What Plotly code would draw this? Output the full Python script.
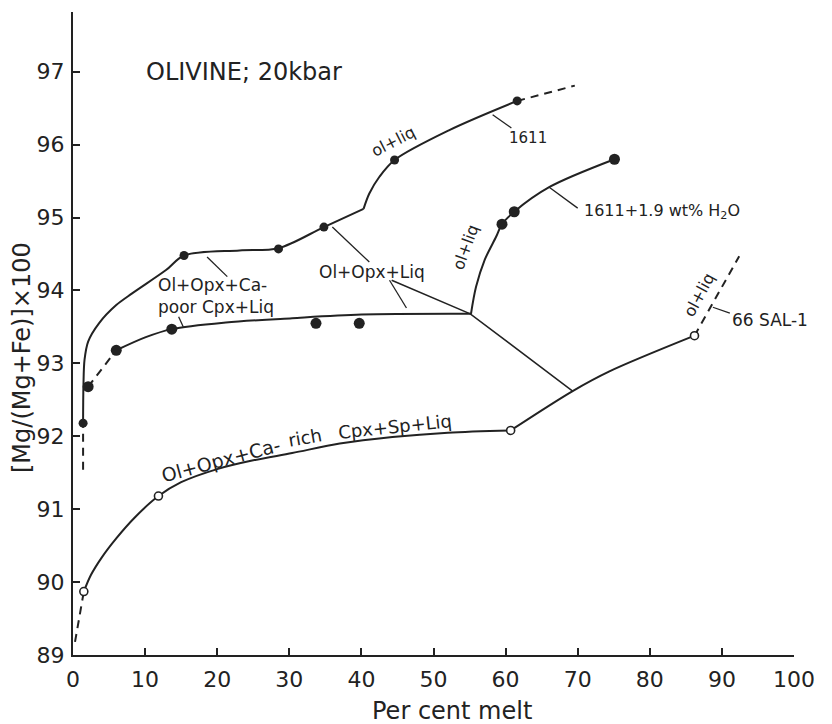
import plotly.graph_objects as go

INK = "#222222"
FONT = "DejaVu Sans"

# ---- measured olivine compositions: per cent melt vs Mg-number ----
run1611_x = [1.4, 15.4, 28.5, 34.8, 44.6, 61.6]
run1611_y = [92.18, 94.48, 94.57, 94.87, 95.79, 96.60]

wet_x = [2.1, 6.0, 13.7, 33.7, 39.7, 59.5, 61.2, 75.1]
wet_y = [92.68, 93.18, 93.47, 93.55, 93.55, 94.91, 95.08, 95.80]

sal_x = [1.5, 11.85, 60.7, 86.2]
sal_y = [89.87, 91.18, 92.08, 93.38]

# ---- trend curves (solid parts, split at the phase-out kinks) ----
c1611_a_x = [1.4, 1.45, 1.6, 2.1, 3.6, 6.0, 8.2, 12.9, 15.4, 23.1, 28.5, 34.8, 40.3]
c1611_a_y = [92.18, 92.7, 93.05, 93.3, 93.55, 93.8, 93.96, 94.28, 94.48, 94.55, 94.58, 94.87, 95.12]
c1611_b_x = [40.3, 41.1, 42.5, 44.6, 52.2, 61.6]
c1611_b_y = [95.12, 95.33, 95.56, 95.79, 96.2, 96.6]
c1611_dash_lo_x = [1.4, 1.4]
c1611_dash_lo_y = [91.54, 92.18]
c1611_dash_hi_x = [61.6, 69.6]
c1611_dash_hi_y = [96.6, 96.81]

wet_a_x = [6.0, 10.1, 13.7, 21.2, 30.4, 40.0, 55.2]
wet_a_y = [93.18, 93.36, 93.47, 93.56, 93.62, 93.67, 93.68]
wet_b_x = [55.2, 55.9, 57.1, 58.7, 59.5, 61.2, 66.1, 75.1]
wet_b_y = [93.68, 94.05, 94.42, 94.74, 94.91, 95.08, 95.42, 95.8]
wet_dash_x = [2.1, 6.0]
wet_dash_y = [92.68, 93.18]

sal_a_x = [1.5, 2.5, 4.0, 6.0, 8.5, 11.85, 15.0, 20.0, 25.0, 30.4, 37.0, 44.3, 52.0, 60.7]
sal_a_y = [89.87, 90.1, 90.34, 90.6, 90.88, 91.18, 91.37, 91.55, 91.67, 91.77, 91.9, 91.99, 92.05, 92.08]
sal_b_x = [60.7, 69.3, 74.4, 86.2]
sal_b_y = [92.08, 92.62, 92.89, 93.38]
sal_dash_lo_x = [0.28, 1.5]
sal_dash_lo_y = [89.18, 89.87]
sal_dash_hi_x = [86.2, 92.4]
sal_dash_hi_y = [93.38, 94.47]

# ---- field boundary and label leader lines ----
boundary_x = [44.2, 55.1, 69.3]
boundary_y = [94.14, 93.68, 92.62]
leaders = [
    ([35.97, 41.1], [94.87, 94.39]),   # Ol+Opx+Liq -> 1611
    ([43.9, 46.25], [94.14, 93.76]),   # Ol+Opx+Liq -> wet curve
    ([18.6, 21.4], [94.46, 94.19]),    # Ca-poor field -> 1611
    ([14.65, 15.3], [93.64, 93.5]),    # Ca-poor field -> wet curve
    ([58.2, 60.8], [96.41, 96.23]),    # 1611
    ([66.0, 70.0], [95.42, 95.13]),    # 1611 + H2O
    ([88.75, 91.1], [93.77, 93.69]),   # 66 SAL-1
]

x_ticks = list(range(0, 101, 10))
y_ticks = list(range(89, 98))

fig = go.Figure()


def line(x, y, width=2.0, dash="solid", spline=True):
    fig.add_trace(go.Scatter(
        x=x, y=y, mode="lines",
        line=dict(color=INK, width=width, dash=dash,
                  shape="spline" if spline else "linear", smoothing=0.9),
        hoverinfo="skip", showlegend=False))


# solid trends
for xs, ys in [(c1611_a_x, c1611_a_y), (c1611_b_x, c1611_b_y),
               (wet_a_x, wet_a_y), (wet_b_x, wet_b_y),
               (sal_a_x, sal_a_y), (sal_b_x, sal_b_y)]:
    line(xs, ys)

# dashed extrapolations
for xs, ys in [(c1611_dash_lo_x, c1611_dash_lo_y), (c1611_dash_hi_x, c1611_dash_hi_y),
               (wet_dash_x, wet_dash_y), (sal_dash_lo_x, sal_dash_lo_y),
               (sal_dash_hi_x, sal_dash_hi_y)]:
    line(xs, ys, dash="8px,6px", spline=False)

# boundary and leaders
line(boundary_x, boundary_y, width=1.5, spline=False)
for xs, ys in leaders:
    line(xs, ys, width=1.3, spline=False)

# data points
fig.add_trace(go.Scatter(x=run1611_x, y=run1611_y, mode="markers",
                         marker=dict(size=9, color=INK), showlegend=False, hoverinfo="skip"))
fig.add_trace(go.Scatter(x=wet_x, y=wet_y, mode="markers",
                         marker=dict(size=11, color=INK), showlegend=False, hoverinfo="skip"))
fig.add_trace(go.Scatter(x=sal_x, y=sal_y, mode="markers",
                         marker=dict(size=8, color="white", line=dict(color=INK, width=1.6)),
                         showlegend=False, hoverinfo="skip"))

labels = [
    # text, x, y, angle, size, xanchor
    ("OLIVINE; 20kbar", 9.9, 97.0, 0, 24, "left"),
    ("ol+liq", 44.4, 96.04, -27, 16, "center"),
    ("1611", 63.1, 96.09, 0, 15, "center"),
    ("ol+liq", 54.5, 94.6, -70, 16, "center"),
    ("1611+1.9 wt% H<sub>2</sub>O", 70.6, 95.08, 0, 16, "left"),
    ("ol+liq", 86.9, 93.94, -62, 16, "center"),
    ("66 SAL-1", 91.1, 93.6, 0, 17, "left"),
    ("Ol+Opx+Liq", 41.5, 94.25, 0, 17, "center"),
    ("Ol+Opx+Ca-<br>poor Cpx+Liq", 11.5, 93.92, 0, 17, "left"),
    ("Ol+Opx+Ca-", 20.5, 91.67, -15, 19, "center"),
    ("rich", 32.2, 91.99, -10, 18, "center"),
    ("Cpx+Sp+Liq", 44.6, 92.13, -6, 18, "center"),
]
for text, x, y, ang, size, anchor in labels:
    fig.add_annotation(x=x, y=y, text=text, showarrow=False, textangle=ang,
                       xanchor=anchor, yanchor="middle", align="left",
                       font=dict(family=FONT, size=size, color=INK))

# axis titles
fig.add_annotation(x=(452 - 73) / 721, y=-(711 - 655) / 643, xref="paper", yref="paper",
                   text="Per cent melt", showarrow=False, xanchor="center", yanchor="middle",
                   font=dict(family=FONT, size=24, color=INK))
fig.add_annotation(x=-(73 - 22) / 721, y=(655 - 358) / 643, xref="paper", yref="paper",
                   text="[Mg/(Mg+Fe)]×100", showarrow=False, textangle=-90,
                   xanchor="center", yanchor="middle",
                   font=dict(family=FONT, size=24, color=INK))

axis_common = dict(showgrid=False, zeroline=False, showline=True, linecolor=INK,
                   linewidth=2, ticks="inside", ticklen=7, tickwidth=1.5,
                   tickcolor=INK, tickfont=dict(family=FONT, size=22, color=INK))

fig.update_layout(
    width=832, height=724,
    margin=dict(l=73, r=38, t=12, b=69),
    paper_bgcolor="white", plot_bgcolor="white",
    showlegend=False,
    xaxis=dict(range=[0, 100], tickvals=x_ticks, ticklabelstandoff=4, **axis_common),
    yaxis=dict(range=[89, 97.82], tickvals=y_ticks, ticklabelstandoff=2, **axis_common),
)

fig.write_html("out.html")
